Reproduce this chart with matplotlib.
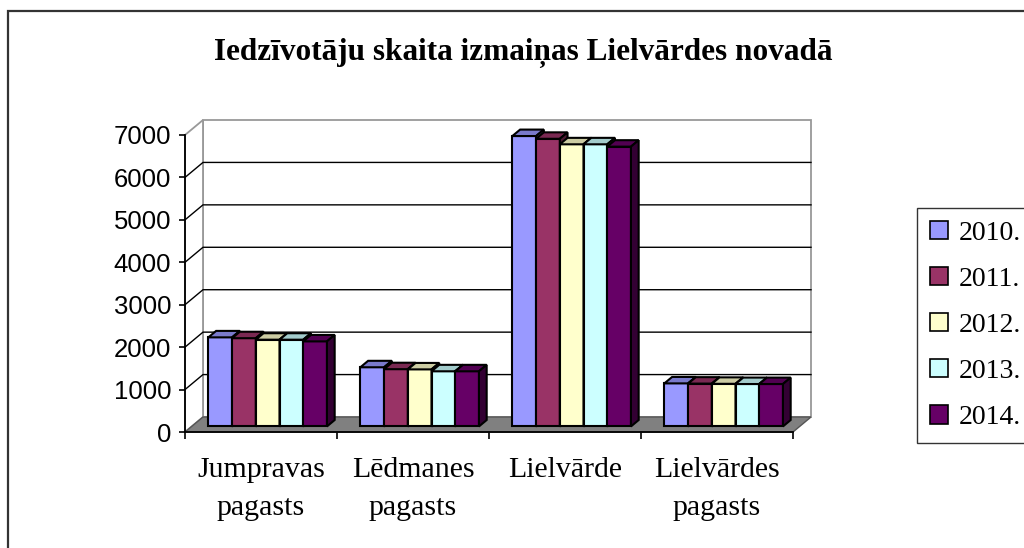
import matplotlib
matplotlib.use("Agg")
import matplotlib.pyplot as plt
from matplotlib.patches import Polygon, Rectangle, Patch
from matplotlib.transforms import blended_transform_factory
import numpy as np

# ---- data ----
categories = ["Jumpravas\npagasts", "Lēdmanes\npagasts", "Lielvārde", "Lielvārdes\npagasts"]
years = ["2010.", "2011.", "2012.", "2013.", "2014."]
v2010 = [2100, 1395, 6845, 1015]
v2011 = [2080, 1350, 6780, 1010]
v2012 = [2045, 1345, 6650, 1005]
v2013 = [2045, 1300, 6650, 1000]
v2014 = [2005, 1300, 6595, 1000]
series = [v2010, v2011, v2012, v2013, v2014]
colors = ["#9999FF", "#993366", "#FFFFCC", "#CCFFFF", "#660066"]
yticks = [0, 1000, 2000, 3000, 4000, 5000, 6000, 7000]
title = "Iedzīvotāju skaita izmaiņas Lielvārdes novadā"

W, H = 1024, 548
fig = plt.figure(figsize=(W / 100, H / 100), dpi=100)
fig.patch.set_facecolor("white")

# outer border (top and left visible)
fig.patches.append(Rectangle((8 / W, -0.2), 1.3, 1 - 11 / H + 0.2, transform=fig.transFigure,
                             fill=False, edgecolor="#333333", linewidth=1.6))

ax_l, ax_r, ax_b, ax_t = 185, 793, 432, 135
ax = fig.add_axes([ax_l / W, (H - ax_b) / H, (ax_r - ax_l) / W, (ax_b - ax_t) / H])
ax.set_xlim(0, 4)
ax.set_ylim(0, 7000)
ax.patch.set_alpha(0)

px_x = 4 / (ax_r - ax_l)        # category units per pixel
px_y = 7000 / (ax_b - ax_t)     # value units per pixel
DX = 18 * px_x
DY = 15 * px_y
ymax = 7000

def cc(poly, **kw):
    p = Polygon(poly, closed=True, clip_on=False, **kw)
    ax.add_patch(p)
    return p

# walls
cc([(DX, DY), (4 + DX, DY), (4 + DX, ymax + DY), (DX, ymax + DY)], facecolor="white",
   edgecolor="#999999", linewidth=1.3, zorder=1)
cc([(0, 0), (DX, DY), (DX, ymax + DY), (0, ymax)], facecolor="white",
   edgecolor="#999999", linewidth=1.3, zorder=1)
# floor
cc([(0, 0), (4, 0), (4 + DX, DY), (DX, DY)], facecolor="#808080",
   edgecolor="#555555", linewidth=1.0, zorder=2)
# gridlines
for v in yticks[1:-1]:
    ax.plot([0, DX, 4 + DX], [v, v + DY, v + DY], color="black", linewidth=1.0,
            clip_on=False, zorder=2)

# bars
n = len(series)
bw = 0.156
f0, f1 = 0.37, 0.80
z = 3
for i in range(len(categories)):
    for j in range(n):
        val = series[j][i]
        col = np.array(matplotlib.colors.to_rgb(colors[j]))
        x0 = i + 0.5 + (j - n / 2) * bw + f0 * DX
        y0 = f0 * DY
        ddx = (f1 - f0) * DX
        ddy = (f1 - f0) * DY
        ax.bar(x0, val, width=bw, bottom=y0, align="edge", color=colors[j],
               edgecolor="black", linewidth=1.5, zorder=z, clip_on=False)
        cc([(x0, y0 + val), (x0 + bw, y0 + val), (x0 + bw + ddx, y0 + val + ddy),
            (x0 + ddx, y0 + val + ddy)], facecolor=col * 0.8, edgecolor="black",
           linewidth=1.5, zorder=z)
        cc([(x0 + bw, y0), (x0 + bw + ddx, y0 + ddy), (x0 + bw + ddx, y0 + val + ddy),
            (x0 + bw, y0 + val)], facecolor=col * 0.5, edgecolor="black",
           linewidth=1.5, zorder=z)
        z += 1

# axes
for s in ["top", "right"]:
    ax.spines[s].set_visible(False)
for s in ["left", "bottom"]:
    ax.spines[s].set_color("black")
    ax.spines[s].set_linewidth(1.3)
    ax.spines[s].set_zorder(100)
ax.set_yticks(yticks)
ax.set_yticklabels([str(v) for v in yticks], fontfamily="Liberation Sans", fontsize=18.5)
ax.tick_params(axis="y", direction="out", length=4, width=1.2, pad=6)
ax.set_xticks([0, 1, 2, 3, 4])
ax.set_xticklabels([])
ax.tick_params(axis="x", which="major", direction="out", length=5, width=1.2)

# category labels, line by line, baselines in pixels
tr = blended_transform_factory(ax.transData, fig.transFigure)
baselines = [477, 515]
for i, lab in enumerate(categories):
    for k, line in enumerate(lab.split("\n")):
        ax.text(i + 0.5, 1 - baselines[k] / H, line, transform=tr, ha="center",
                va="baseline", fontfamily="Liberation Serif", fontsize=21.5)

# title
fig.text(523 / W, 1 - 60 / H, title, ha="center", va="baseline",
         fontfamily="Liberation Serif", fontweight="bold", fontsize=22.5)

# legend
handles = [Patch(facecolor=c, edgecolor="black", linewidth=1.2) for c in colors]
leg = fig.legend(handles, years, loc="upper left", bbox_to_anchor=(917 / W, 1 - 208 / H),
                 prop={"family": "Liberation Serif", "size": 20}, frameon=True,
                 fancybox=False, edgecolor="black", handlelength=0.65, handleheight=0.65,
                 handletextpad=0.4, labelspacing=0.76, borderpad=0.45, borderaxespad=0)
leg.get_frame().set_linewidth(1.0)

fig.savefig("out.png", dpi=100)
